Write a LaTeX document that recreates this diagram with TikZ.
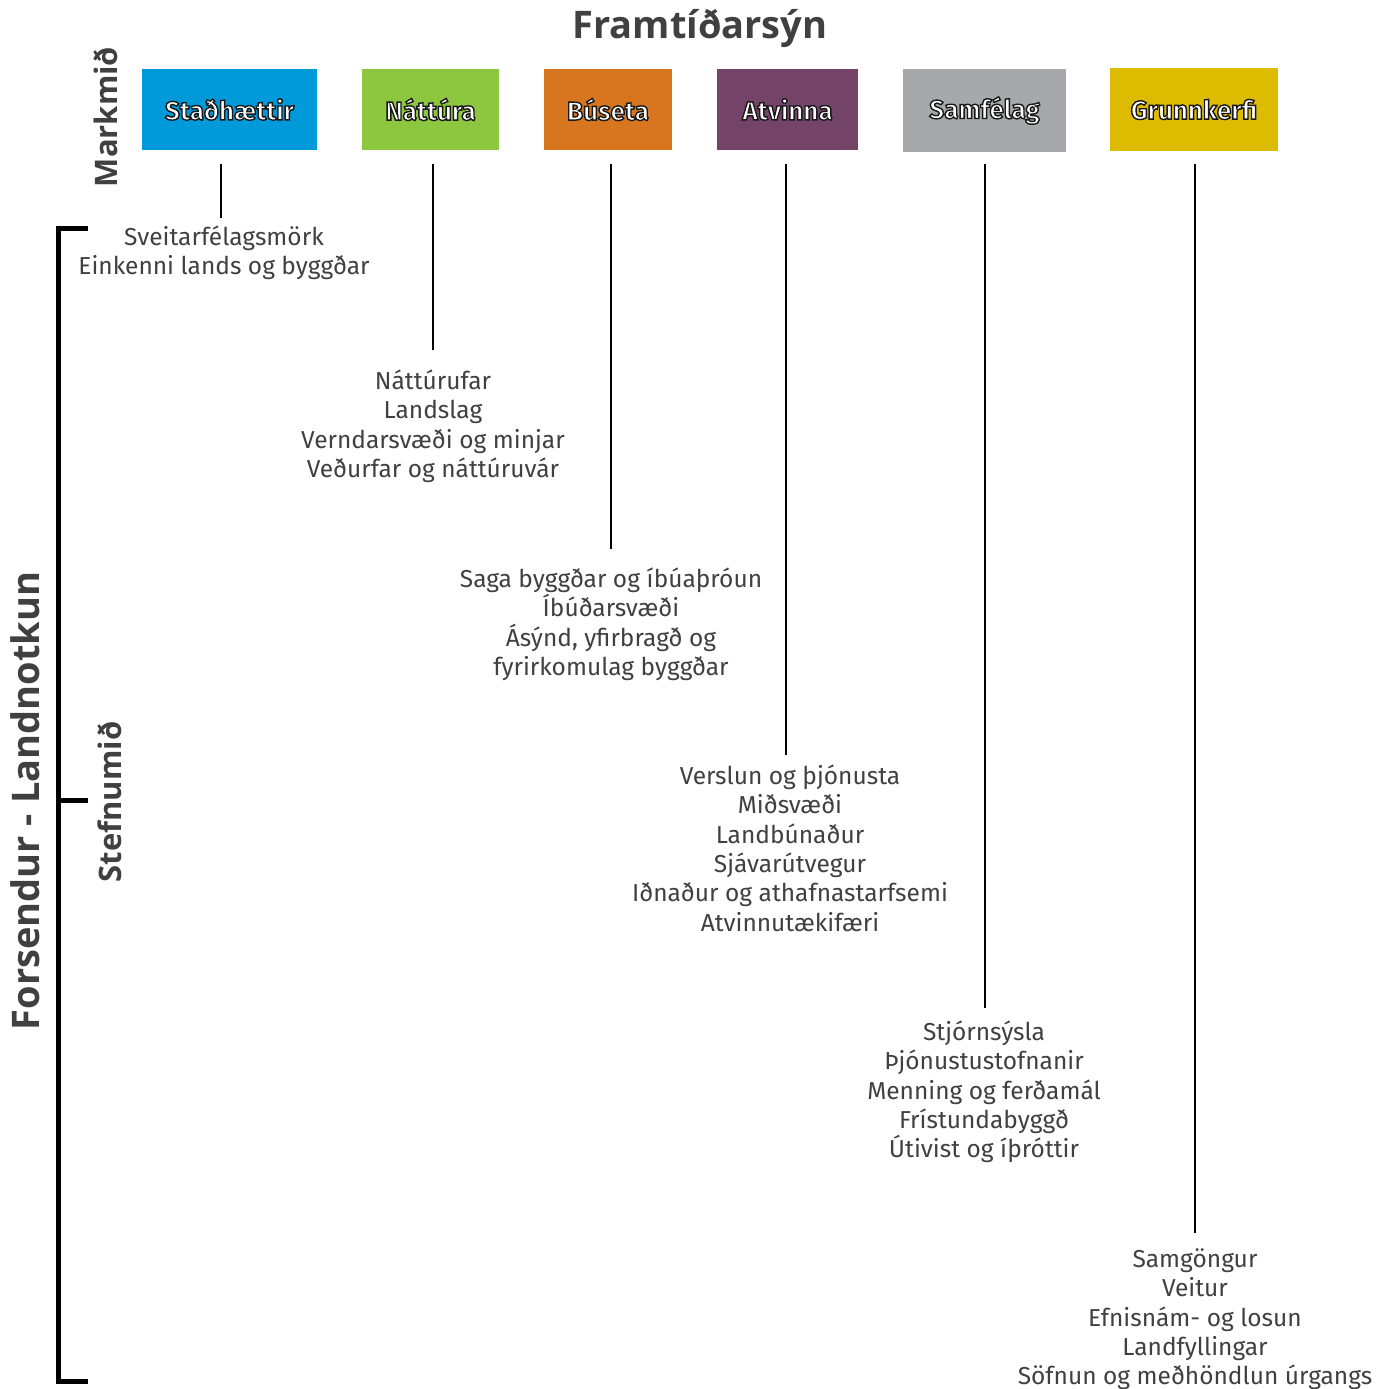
\documentclass[tikz,border=0pt]{standalone}
\usepackage{fontspec}
\setmainfont{Fira Sans}
\newfontfamily\titlefont{Open Sans}[BoldFont=* Bold]
\usetikzlibrary{calc}
\definecolor{cblue}{RGB}{0,153,217}
\definecolor{cgreen}{RGB}{141,198,63}
\definecolor{corange}{RGB}{215,118,31}
\definecolor{cpurple}{RGB}{115,68,104}
\definecolor{cgray}{RGB}{167,168,171}
\definecolor{cyellow}{RGB}{220,187,0}
\definecolor{tgray}{RGB}{64,64,64}
\newcommand\oltext[1]{{\color{white}\special{pdf:literal direct 0.1 0.1 0.1 RG 2 Tr 1.4 w}#1\special{pdf:literal direct 0 Tr}}}
\newcommand\fl{\rule{0pt}{23pt}}
\tikzset{
  hbox/.style={draw=none, inner sep=0pt, minimum height=81pt, font=\bfseries\fontsize{26}{30}\selectfont},
  item/.style={anchor=north, align=center, inner sep=0pt, text=tgray, font=\fontsize{24.5}{29.4}\selectfont},
  conn/.style={draw=black, line width=2pt},
  bracket/.style={draw=black, line width=5pt},
  vtitle/.style={rotate=90, text=tgray, font=\titlefont\bfseries\fontsize{31}{36}\selectfont, inner sep=0pt},
}
\begin{document}
\begin{tikzpicture}[x=1pt,y=-1pt]
\useasboundingbox (0,0) rectangle (1392,1389);
\node[text=tgray, font=\titlefont\bfseries\fontsize{38}{42}\selectfont, inner sep=0pt] (title) at (700,28) {Framtíðarsýn};
\node[vtitle] (mark) at (106,117) {Markmið};
\node[vtitle] (stef) at (110,802) {Stefnumið};
\node[vtitle, font=\titlefont\bfseries\fontsize{38}{42}\selectfont] (fors) at (25,801) {Forsendur - Landnotkun};

\node[hbox, fill=cblue, minimum width=175pt] (b1) at (229.5,109.5) {\oltext{Staðhættir}};
\node[hbox, fill=cgreen, minimum width=137pt] (b2) at (430.5,109.5) {\oltext{Náttúra}};
\node[hbox, fill=corange, minimum width=128pt] (b3) at (608,109.5) {\oltext{Búseta}};
\node[hbox, fill=cpurple, minimum width=141pt] (b4) at (787.5,109.5) {\oltext{Atvinna}};
\node[hbox, fill=cgray, minimum width=163pt, minimum height=83pt] (b5) at (984.5,110.5) {\oltext{Samfélag}};
\node[hbox, fill=cyellow, minimum width=168pt, minimum height=83pt] (b6) at (1194,109.5) {\oltext{Grunnkerfi}};

\node[item] (t1) at (224,222) {\fl Sveitarfélagsmörk\\Einkenni lands og byggðar};
\node[item] (t2) at (433,366) {\fl Náttúrufar\\Landslag\\Verndarsvæði og minjar\\Veðurfar og náttúruvár};
\node[item] (t3) at (611,564) {\fl Saga byggðar og íbúaþróun\\Íbúðarsvæði\\Ásýnd, yfirbragð og\\fyrirkomulag byggðar};
\node[item] (t4) at (790,761) {\fl Verslun og þjónusta\\Miðsvæði\\Landbúnaður\\Sjávarútvegur\\Iðnaður og athafnastarfsemi\\Atvinnutækifæri};
\node[item] (t5) at (984,1017) {\fl Stjórnsýsla\\Þjónustustofnanir\\Menning og ferðamál\\Frístundabyggð\\Útivist og íþróttir};
\node[item] (t6) at (1195,1244) {\fl Samgöngur\\Veitur\\Efnisnám- og losun\\Landfyllingar\\Söfnun og meðhöndlun úrgangs};

\coordinate (l1) at (221,164);
\coordinate (l2) at (433,164);
\coordinate (l3) at (611,164);
\coordinate (l4) at (786,164);
\coordinate (l5) at (985,164);
\coordinate (l6) at (1195,164);
\draw[conn, shorten >=4pt] (l1) -- (l1 |- t1.north);
\draw[conn, shorten >=16pt] (l2) -- (l2 |- t2.north);
\draw[conn, shorten >=15pt] (l3) -- (l3 |- t3.north);
\draw[conn, shorten >=6pt] (l4) -- (l4 |- t4.north);
\draw[conn, shorten >=9pt] (l5) -- (l5 |- t5.north);
\draw[conn, shorten >=11pt] (l6) -- (l6 |- t6.north);

\coordinate (brt) at (88,228);
\coordinate (brb) at (88,1381);
\coordinate (brm) at (88,800);
\draw[bracket] (brt) -- (58,228) -- (58,1381) -- (brb);
\draw[bracket] (58,800) -- (brm);
\end{tikzpicture}
\end{document}
